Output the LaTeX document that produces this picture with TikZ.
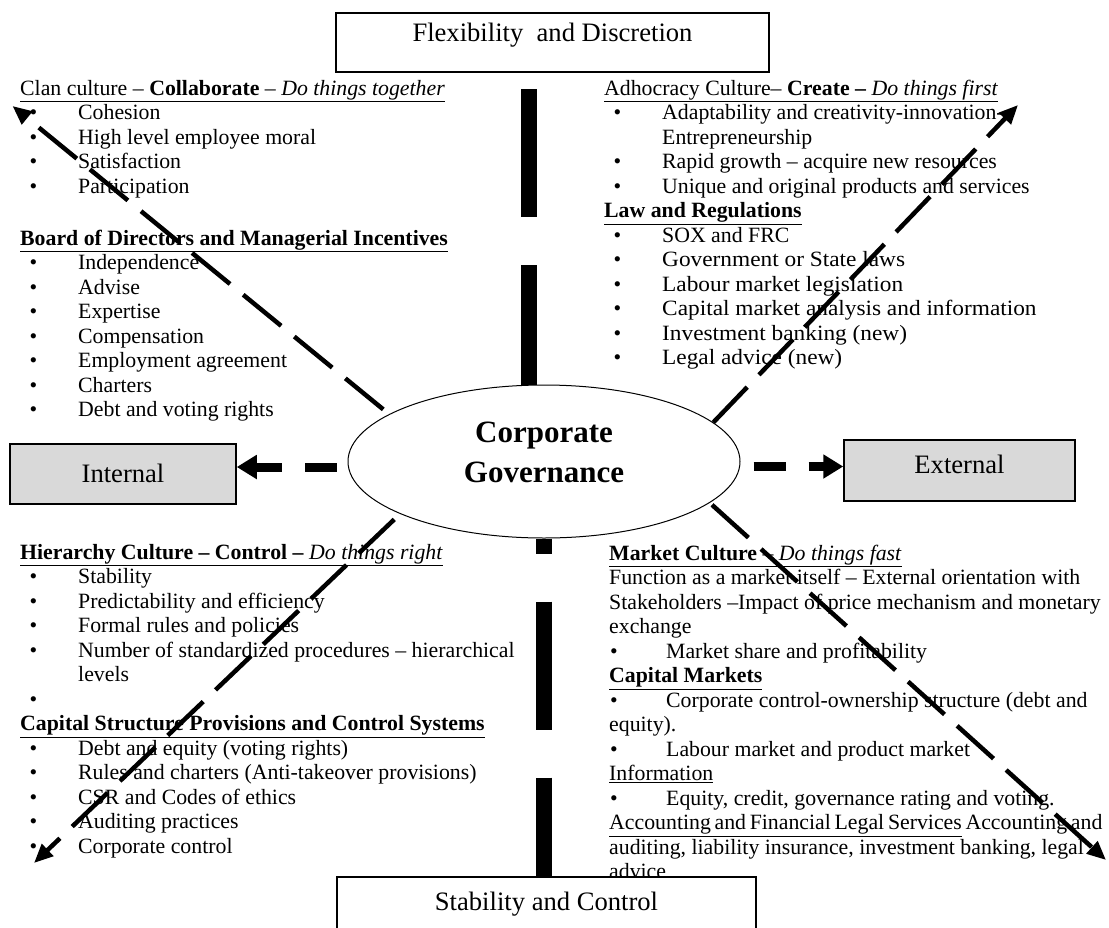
\documentclass[tikz,border=0pt]{standalone}
\usepackage{fontspec}
\setmainfont{Liberation Serif}
\newfontfamily\widefont{Liberation Serif}[FakeStretch=1.07]
\usetikzlibrary{arrows.meta,calc,shapes.geometric}
\definecolor{CGGray}{HTML}{D9D9D9}
\newcommand\itm{\hspace*{9.5pt}\makebox[48.5pt][l]{\textbullet}}
\newcommand\itmb{\hspace*{1pt}\makebox[56pt][l]{\textbullet}}
\newcommand\cont{\hspace*{58pt}}

\begin{document}
\begin{tikzpicture}[x=1pt,y=-1pt,
  txtblock/.style={anchor=north west,inner sep=0pt,align=left,font=\fontsize{21.8}{24.5}\selectfont},
  axisbox/.style={draw,line width=1.5pt,fill=white,inner sep=0pt,font=\fontsize{26.6}{30}\selectfont},
  sidebox/.style={axisbox,fill=CGGray},
  cgnode/.style={ellipse,draw,line width=1pt,fill=white,inner sep=0pt,minimum width=392pt,minimum height=153pt,align=center,font=\bfseries\fontsize{31}{40}\selectfont},
  diagarrow/.style={line width=4.5pt,dash pattern=on 49pt off 17pt,-{Triangle[length=19pt,width=16pt]}},
  sidearrow/.style={line width=9pt,dash pattern=on 32pt off 23pt,dash phase=44pt,-{Triangle[length=20pt,width=23pt]}},
  axisbar/.style={line width=16pt,dash pattern=on 128pt off 48pt}]
\path[use as bounding box] (0,0) rectangle (1109,927);

% text of the four quadrants
\node[txtblock] (clan) at (20,77.9) {\strut\underline{Clan culture – \textbf{Collaborate} – \textit{Do things together}}\\
\itm Cohesion\\
\itm High level employee moral\\
\itm Satisfaction\\
\itm Participation};
\node[txtblock] (board) at (20,227.9) {\strut\underline{\textbf{Board of Directors and Managerial Incentives}}\\
\itm Independence\\
\itm Advise\\
\itm Expertise\\
\itm Compensation\\
\itm Employment agreement\\
\itm Charters\\
\itm Debt and voting rights};
\node[txtblock] (hier) at (20,541.9) {\strut\underline{\textbf{Hierarchy Culture – Control –} \textit{Do things right}}\\
\itm Stability\\
\itm Predictability and efficiency\\
\itm Formal rules and policies\\
\itm Number of standardized procedures – hierarchical\\
\cont levels\\
\itm\\
\underline{\textbf{Capital Structure Provisions and Control Systems}}\\
\itm Debt and equity (voting rights)\\
\itm Rules and charters (Anti-takeover provisions)\\
\itm CSR and Codes of ethics\\
\itm Auditing practices\\
\itm Corporate control};
\node[txtblock] (adhoc) at (604,77.9) {\strut\underline{Adhocracy Culture– \textbf{Create –} \textit{Do things first}}\\
\itm Adaptability and creativity-innovation-\\
\cont Entrepreneurship\\
\itm Rapid growth – acquire new resources\\
\itm Unique and original products and services\\
\underline{\textbf{Law and Regulations}}\\
\itm SOX and FRC\\
\itm {\widefont Government or State laws}\\
\itm {\widefont Labour market legislation}\\
\itm {\widefont Capital market analysis and information}\\
\itm {\widefont Investment banking (new)}\\
\itm {\widefont Legal advice (new)}};
\node[txtblock] (market) at (609,542.9) {\strut\underline{\textbf{Market Culture} – \textit{Do things fast}}\\
Function as a market itself – External orientation with\\
Stakeholders –Impact of price mechanism and monetary\\
exchange\\
\itmb Market share and profitability\\
\underline{\textbf{Capital Markets}}\\
\itmb Corporate control-ownership structure (debt and\\
equity).\\
\itmb Labour market and product market\\
\underline{Information}\\
\itmb Equity, credit, governance rating and voting.\\
{\spaceskip=0.17em\relax\underline{Accounting and Financial Legal Services} Accounting and}\\
auditing, liability insurance, investment banking, legal\\
advice};

% axis boxes and centre
\node[axisbox,minimum width=433pt,minimum height=59pt,text height=9pt,text depth=12pt] (flex) at (552.5,42.5) {Flexibility\ \ and Discretion};
\node[axisbox,minimum width=419pt,minimum height=59pt,text height=14pt,text depth=7pt] (stab) at (546.5,906.5) {Stability and Control};
\node[sidebox,minimum width=226pt,minimum height=60pt,text height=20pt,text depth=4pt] (internal) at (123,474) {Internal};
\node[sidebox,minimum width=231pt,minimum height=61pt,text height=14pt,text depth=9pt] (external) at (959.5,470.5) {External};
\node[cgnode] (cg) at (544,461.5) {Corporate\\Governance\rule[-18pt]{0pt}{0pt}};

\coordinate (flextip) at (528.5,88);
\coordinate (nwtip) at (12.5,106);
\coordinate (netip) at (1018,105);
\coordinate (swtip) at (34,863);
\coordinate (setip) at (1106,860);

% connectors
\draw[axisbar,dash phase=8pt] (cg.north -| flextip) -- (flextip);
\draw[axisbar,dash phase=113pt] (cg.south) -- (cg.south |- stab.north);
\draw[sidearrow] ($(cg.west)+(0,5.5)$) -- ($(internal.east)+(0,-7)$);
\draw[sidearrow,dash phase=42pt] ($(cg.east)+(0,5)$) -- ($(external.west)+(0,-4)$);
\draw[diagarrow,shorten <=7.5pt] (cg.163.3) -- (nwtip);
\draw[diagarrow] (cg.13.2) -- (netip);
\draw[diagarrow,shorten <=8pt] (cg.200.5) -- (swtip);
\draw[diagarrow,shorten <=3pt] (cg.346.3) -- (setip);
\end{tikzpicture}
\end{document}
